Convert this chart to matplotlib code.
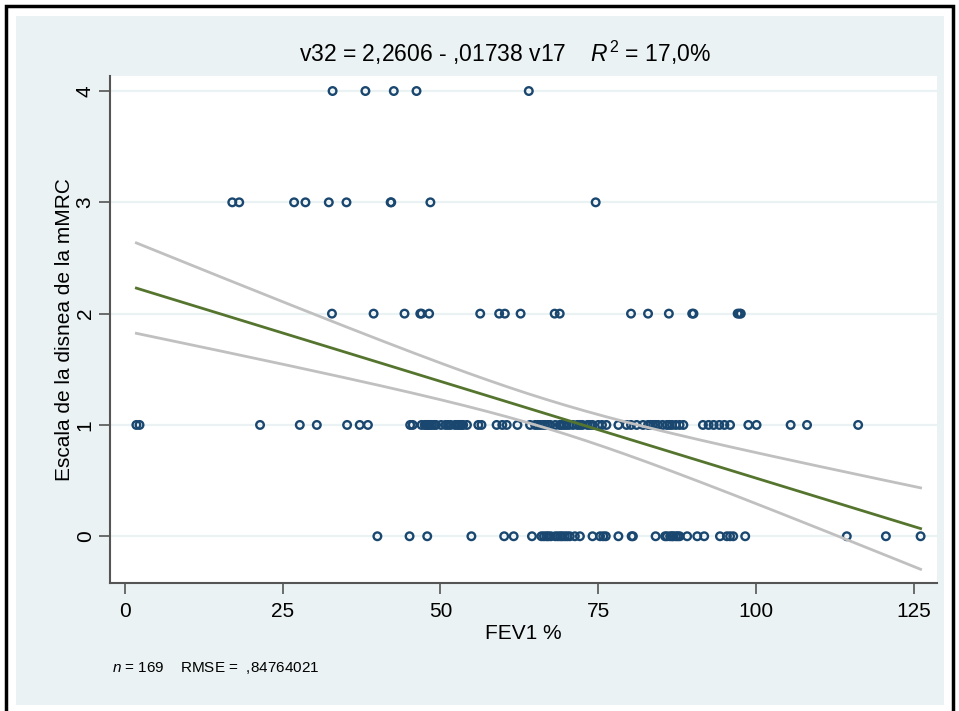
import matplotlib.pyplot as plt
import numpy as np

plt.rcParams['font.family'] = ['Liberation Sans', 'DejaVu Sans']
plt.rcParams['mathtext.fontset'] = 'custom'
plt.rcParams['mathtext.rm'] = 'Liberation Sans'
plt.rcParams['mathtext.it'] = 'Liberation Sans:italic'

# FEV1 % values grouped by dyspnea score (mMRC)
fev_4 = [32.9, 38.1, 42.6, 46.2, 64.0]
fev_3 = [17.0, 18.1, 26.8, 28.6, 32.3, 35.1, 42.1, 42.2, 48.4, 74.6]
fev_2 = [32.8, 39.4, 44.3, 46.8, 47.0, 48.2, 56.3, 59.3, 60.2, 62.7,
         68.1, 68.9, 80.2, 82.9, 86.2, 89.9, 90.1, 97.1, 97.4, 97.6]
fev_1 = [1.8, 2.3, 21.4, 27.7, 30.4, 35.2, 37.2, 38.5, 45.2, 45.6,
         47.0, 47.5, 47.8, 48.0, 48.3, 48.6, 49.0, 49.3, 50.1, 50.8,
         51.2, 51.6, 52.3, 52.7, 53.0, 53.3, 53.6, 54.2, 56.0, 56.5,
         58.9, 59.8, 60.5, 62.2, 64.2, 65.0, 65.4, 65.8, 66.2, 66.6,
         67.0, 67.4, 68.2, 68.9, 69.2, 69.6, 70.0, 70.4, 71.0, 71.7,
         72.1, 72.5, 73.3, 73.7, 74.1, 75.0, 75.6, 76.3, 78.2, 79.5,
         80.2, 81.1, 82.1, 82.9, 83.3, 83.7, 84.1, 84.5, 85.2, 85.9,
         86.3, 86.7, 87.3, 87.9, 88.5, 91.6, 92.5, 93.3, 94.2, 95.0,
         95.9, 98.8, 100.1, 105.5, 108.1, 116.2]
fev_0 = [40.0, 45.1, 47.9, 54.9, 60.1, 61.6, 64.5, 66.0, 66.4, 66.8,
         67.1, 67.5, 68.2, 68.6, 69.0, 69.3, 69.7, 70.1, 70.5, 71.3,
         72.1, 74.1, 75.3, 75.8, 76.2, 78.2, 80.3, 80.5, 84.1, 85.6,
         85.9, 86.4, 86.7, 86.9, 87.3, 87.6, 87.9, 89.1, 90.7, 91.8,
         94.3, 95.4, 95.9, 96.4, 98.3, 114.4, 120.6, 126.1]
scores = [4, 3, 2, 1, 0]

# regression summary
intercept = 2.2606
slope = -0.01738
rmse = 0.84764021
n_obs = 169
x_mean = 67.6
sxx = 81700.0
t_crit = 1.974

groups = [fev_4, fev_3, fev_2, fev_1, fev_0]
xs = np.concatenate(groups)
ys = np.concatenate([[s] * len(g) for s, g in zip(scores, groups)])

W, H = 959, 711
fig = plt.figure(figsize=(W / 100, H / 100), dpi=100)
fig.patch.set_facecolor('white')

# outer frame (open at the bottom edge of the image) and graph region
region = plt.Rectangle((16 / W, 6 / H), 928 / W, 689 / H, transform=fig.transFigure,
                       facecolor='#eaf2f3', edgecolor='none', zorder=-2)
frame = plt.Rectangle((6 / W, -0.02), 947 / W, 0.02 + 705 / H, transform=fig.transFigure,
                      fill=False, edgecolor='black', linewidth=2.5, zorder=-1)
fig.patches.extend([region, frame])

ax = fig.add_axes([110 / W, 1 - 583 / H, 827 / W, 507 / H])
ax.set_zorder(1)
ax.set_facecolor('white')
ax.set_xlim(-2.38, 128.7)
ax.set_ylim(-0.42, 4.135)

for y in range(5):
    ax.axhline(y, color='#eaf2f3', linewidth=1.6, zorder=0)

ax.scatter(xs, ys, s=30, facecolors='none', edgecolors='#1a476f', linewidths=1.7, zorder=2)

xl = np.linspace(xs.min(), xs.max(), 200)
fit = intercept + slope * xl
half = t_crit * rmse * np.sqrt(1 / n_obs + (xl - x_mean) ** 2 / sxx)
ax.plot(xl, fit + half, color='#c0c0c0', linewidth=2, zorder=3)
ax.plot(xl, fit - half, color='#c0c0c0', linewidth=2, zorder=3)
ax.plot(xl, fit, color='#55752f', linewidth=2, zorder=4)

ax.set_xticks([0, 25, 50, 75, 100, 125])
ax.set_yticks([0, 1, 2, 3, 4])
for lab in ax.get_yticklabels():
    lab.set_rotation(90)
    lab.set_va('center')
ax.tick_params(axis='both', direction='out', length=8, width=1.2, color='#555555',
               labelsize=15)
ax.tick_params(axis='x', pad=6)
ax.tick_params(axis='y', pad=3)
for side in ['top', 'right']:
    ax.spines[side].set_visible(False)
for side in ['left', 'bottom']:
    ax.spines[side].set_color('#555555')
    ax.spines[side].set_linewidth(1.5)

ax.set_xlabel('FEV1 %', fontsize=15, labelpad=2)
ax.set_ylabel('Escala de la disnea de la mMRC', fontsize=15, labelpad=1)

fig.text(505 / W, 1 - 62 / H, r'v32 = 2,2606 - ,01738 v17    $R^2$ = 17,0%',
         ha='center', va='baseline', fontsize=16.5)
fig.text(112 / W, 1 - 672 / H, r'$n$ = 169    RMSE =  ,84764021',
         ha='left', va='baseline', fontsize=11)

fig.savefig('out.png', dpi=100)
